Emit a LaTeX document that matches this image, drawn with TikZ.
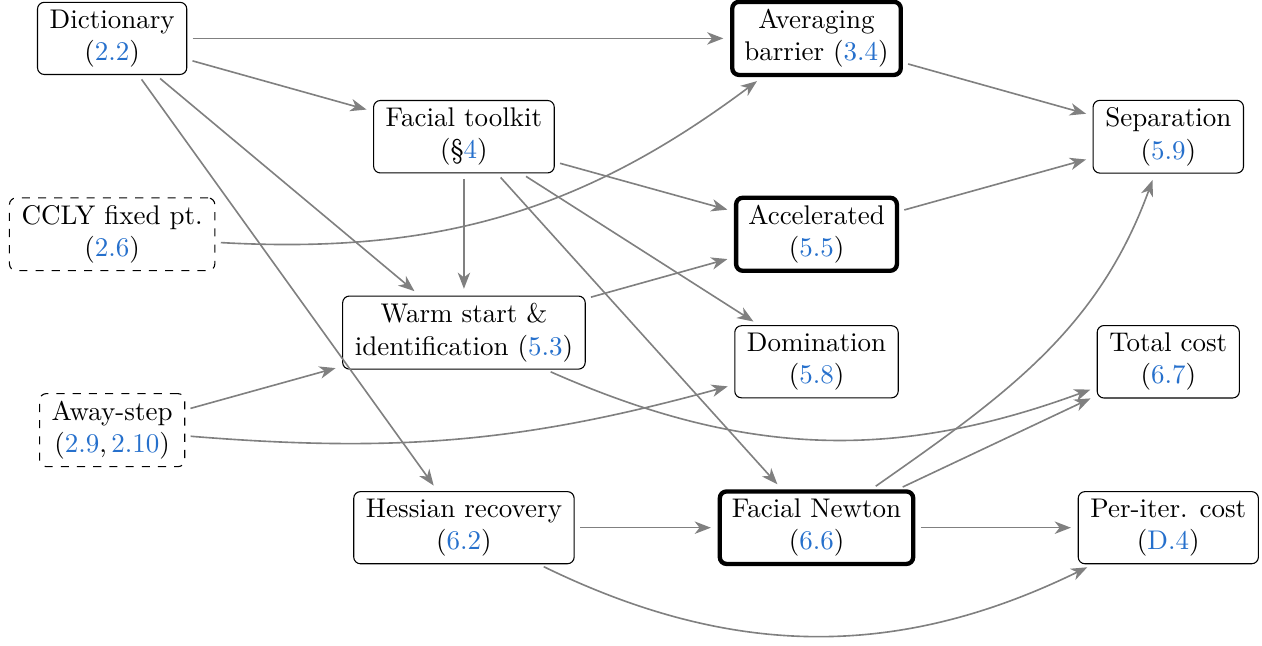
\documentclass[tikz,border=0pt]{standalone}
\usepackage{tikz}
\usetikzlibrary{arrows.meta}
\definecolor{linkblue}{RGB}{38,112,204}
\newcommand{\lnk}[1]{\textcolor{linkblue}{#1}}

\begin{document}
\begin{tikzpicture}[
                box/.style={draw, rounded corners=2.5pt, align=center, inner xsep=4.5pt, inner ysep=2.7pt},
                keybox/.style={box, line width=1.6pt},
                extbox/.style={box, dashed},
                dep/.style={draw=gray, line width=0.6pt, -{Stealth[length=6pt,width=4.6pt,inset=1.8pt]}, shorten <=2pt, shorten >=2.5pt}
            ]
                \useasboundingbox (0,0) rectangle (16.43,-8.41);

                \node [box] (dict) at (1.46,-0.50) {Dictionary\\(\lnk{2.2})};
                \node [extbox] (ccly) at (1.46,-3.05) {CCLY fixed pt.\\(\lnk{2.6})};
                \node [extbox] (away) at (1.46,-5.60) {Away-step\\(\lnk{2.9},\,\lnk{2.10})};

                \node [box] (toolkit) at (6.04,-1.78) {Facial toolkit\\(\S\lnk{4})};
                \node [box] (warm) at (6.04,-4.33) {Warm start \&\\identification (\lnk{5.3})};
                \node [box] (hess) at (6.04,-6.87) {Hessian recovery\\(\lnk{6.2})};

                \node [keybox] (avg) at (10.63,-0.50) {Averaging\\barrier (\lnk{3.4})};
                \node [keybox] (accel) at (10.63,-3.05) {Accelerated\\(\lnk{5.5})};
                \node [box] (domin) at (10.63,-4.71) {Domination\\(\lnk{5.8})};
                \node [keybox] (newton) at (10.63,-6.87) {Facial Newton\\(\lnk{6.6})};

                \node [box] (sep) at (15.21,-1.78) {Separation\\(\lnk{5.9})};
                \node [box] (total) at (15.21,-4.71) {Total cost\\(\lnk{6.7})};
                \node [box] (iter) at (15.21,-6.87) {Per-iter. cost\\(\lnk{D.4})};

                \draw [dep] (dict) -- (avg);
                \draw [dep] (dict) -- (toolkit);
                \draw [dep] (dict) -- (warm);
                \draw [dep] (dict) -- (hess);
                \draw [dep] (ccly) to [bend right=20] (avg);
                \draw [dep] (away) -- (warm);
                \draw [dep] (away) to [bend right=10] (domin);
                \draw [dep] (toolkit) -- (warm);
                \draw [dep] (toolkit) -- (accel);
                \draw [dep] (toolkit) -- (domin);
                \draw [dep] (toolkit) -- (newton);
                \draw [dep] (warm) -- (accel);
                \draw [dep] (warm) to [bend right=22] (total);
                \draw [dep] (hess) -- (newton);
                \draw [dep] (hess) to [bend right=26] (iter);
                \draw [dep] (avg) -- (sep);
                \draw [dep] (accel) -- (sep);
                \draw [dep] (newton) to [out=35, in=250] (sep);
                \draw [dep] (newton) -- (total);
                \draw [dep] (newton) -- (iter);
            \end{tikzpicture}
\end{document}
